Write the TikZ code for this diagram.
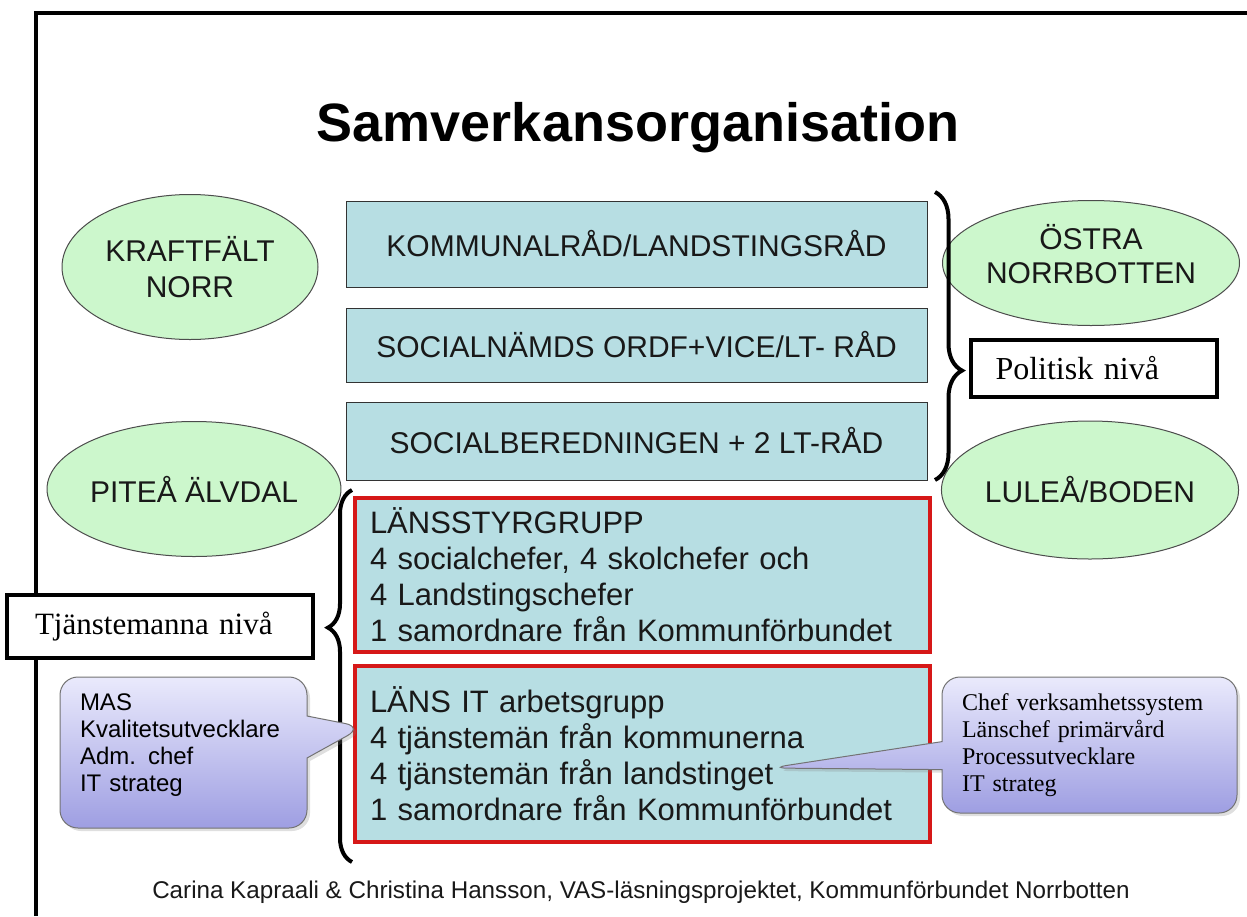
\documentclass[tikz,border=0pt]{standalone}
\usepackage{fontspec}
\setmainfont{Liberation Sans}
\newfontfamily\timesfont{Liberation Serif}
\usetikzlibrary{shapes.geometric,shapes.callouts,decorations.pathreplacing,shadows}
\definecolor{boxblue}{RGB}{183,222,227}
\definecolor{palegreen}{RGB}{204,247,204}
\definecolor{bubbletop}{RGB}{234,234,252}
\definecolor{bubblebot}{RGB}{158,158,226}
\definecolor{boxred}{RGB}{214,24,24}
\newcommand{\FT}{\fontsize{27}{32}\selectfont\bfseries}
\newcommand{\FB}{\fontsize{15}{18}\selectfont}
\newcommand{\FR}{\fontsize{15.5}{18}\selectfont}
\newcommand{\FC}{\fontsize{12}{13.5}\selectfont}
\newcommand{\FS}{\fontsize{12}{13.6}\selectfont\timesfont}
\newcommand{\FN}{\fontsize{16}{19}\selectfont\timesfont}
\newcommand{\FF}{\fontsize{12.1}{14}\selectfont}
\newcommand{\lyft}[2]{\raisebox{#1}[\height][\depth]{#2}}

\begin{document}
\begin{tikzpicture}[x=0.5pt,y=-0.5pt]
\tikzstyle{frame}=[black,line width=2pt]
\tikzstyle{rad}=[draw=black!80,line width=0.5pt,fill=boxblue,font=\FB,text=black!90,minimum width=290.5pt]
\tikzstyle{grupp}=[draw=boxred,line width=1.6pt,fill=boxblue,font=\FR,text=black!90,align=left,text width=272.5pt,inner xsep=7.5pt]
\tikzstyle{region}=[ellipse,draw=black!70,line width=0.5pt,fill=palegreen,font=\FB,text=black!90,align=center,inner sep=0pt]
\tikzstyle{niva}=[draw=black,line width=2pt,fill=white,font=\FN,align=left]
\tikzstyle{bubbla}=[rectangle callout,rounded corners=9pt,draw=black!55,line width=0.5pt,top color=bubbletop,bottom color=bubblebot,drop shadow={opacity=0.25,shadow xshift=1.5pt,shadow yshift=-1.5pt},align=left,inner xsep=10pt]
\tikzstyle{klammer}=[decorate,line width=2pt]

\useasboundingbox (0,0) rectangle (1247,916);
\draw[frame] (36,916) -- (36,13) -- (1247,13);

\node[font=\FT] (titel) at (638,128) {Samverkansorganisation};

% politisk niva
\node[rad,minimum height=43pt] (kommunal) at (636.5,244) {KOMMUNALRÅD/LANDSTINGSRÅD};
\node[rad,minimum height=37pt] (socnamnd) at (636.5,345) {SOCIALNÄMDS ORDF+VICE/LT- RÅD};
\node[rad,minimum height=39pt] (socbered) at (636.5,441) {SOCIALBEREDNINGEN + 2 LT-RÅD};

% tjanstemanna niva
\node[grupp,minimum height=77pt] (styr) at (642.5,575)
  {LÄNSSTYRGRUPP\\4 socialchefer, 4 skolchefer och\\4 Landstingschefer\\1 samordnare från Kommunförbundet};
\node[grupp,minimum height=88pt] (itgrupp) at (642.5,754)
  {LÄNS IT arbetsgrupp\\4 tjänstemän från kommunerna\\4 tjänstemän från landstinget\\1 samordnare från Kommunförbundet};

\node[region,minimum width=128pt,minimum height=72.5pt] (kraft) at (190,267) {KRAFTFÄLT\\NORR};
\node[region,font=\fontsize{15}{17}\selectfont,minimum width=139pt,minimum height=62.5pt] (ostra) at (1091,263)
  {\lyft{2pt}{\begin{tabular}{@{}c@{}}ÖSTRA\\NORRBOTTEN\end{tabular}}};
\node[region,minimum width=136pt,minimum height=67.5pt] (pitea) at (194,489) {PITEÅ ÄLVDAL};
\node[region,minimum width=140pt,minimum height=69pt] (lulea) at (1090,490) {LULEÅ/BODEN};

\draw[klammer,decoration={brace,amplitude=13.5pt,aspect=0.62}] (935,192) -- (935,480);
\draw[klammer,decoration={brace,amplitude=12pt,aspect=0.63}] (352,862) -- (352,490);

\node[niva,text width=98pt,inner xsep=12.5pt,minimum height=28.5pt] (politisk) at (1093.5,368.5) {Politisk nivå};
\node[niva,font=\fontsize{15.5}{19}\selectfont\timesfont,text width=125pt,inner xsep=14pt,minimum height=31.5pt] (tjansteman) at (160,626.5) {Tjänstemanna nivå};

\coordinate (spetsV) at (363,727);
\coordinate (spetsH) at (770,768);
\node[bubbla,font=\FC,text width=103.5pt,minimum height=75.5pt,callout absolute pointer=(spetsV),callout pointer width=21pt] (masbubbla) at (183.5,752.5)
  {\lyft{3.5pt}{\begin{tabular}{@{}l@{}}MAS\\Kvalitetsutvecklare\\Adm. chef\\IT strateg\end{tabular}}};
\node[bubbla,font=\FS,text width=127.5pt,minimum height=68pt,callout absolute pointer=(spetsH),callout pointer width=14pt] (ltbubbla) at (1089.5,745)
  {Chef verksamhetssystem\\Länschef primärvård\\Processutvecklare\\IT strateg};

\node[font=\FF,text=black!90] (kalla) at (641,892) {Carina Kapraali \& Christina Hansson, VAS-läsningsprojektet, Kommunförbundet Norrbotten};
\end{tikzpicture}
\end{document}
